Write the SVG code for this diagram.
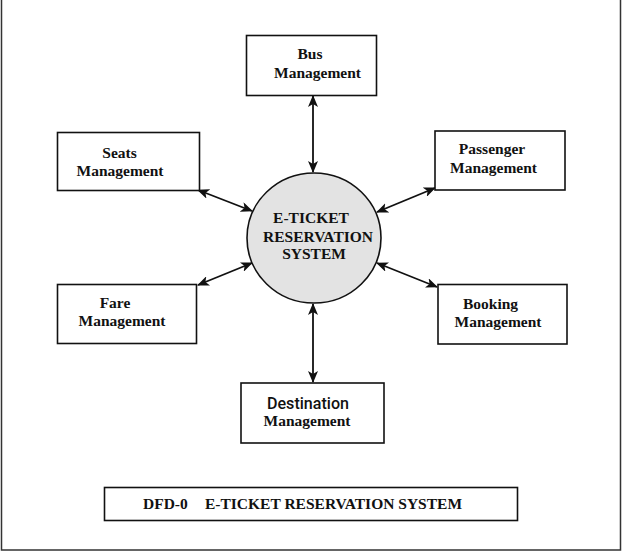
<svg xmlns="http://www.w3.org/2000/svg" width="624" height="553" viewBox="0 0 624 553">
<style>
.box{fill:#fff;stroke:#111;stroke-width:1.6}
.t{font-family:"Liberation Serif","Times New Roman",serif;font-weight:bold;font-size:15.5px;fill:#111;text-anchor:middle}
.s{font-family:Roboto,"Liberation Sans",Arial,sans-serif;font-weight:500;font-size:16.5px;fill:#111;text-anchor:middle}
.c{stroke:#111;stroke-width:1.8;fill:none;marker-start:url(#ah);marker-end:url(#ah)}
</style>
<defs>
<marker id="ah" viewBox="0 0 12 10" refX="11" refY="5" markerWidth="12" markerHeight="10" markerUnits="userSpaceOnUse" orient="auto-start-reverse">
<path d="M0,0 L12,5 L0,10 L3,5 Z" fill="#111"/>
</marker>
</defs>
<rect width="624" height="553" fill="#fff"/>
<path d="M1.5,0 V550 H620.5 V0" fill="none" stroke="#333" stroke-width="1.5"/>
<g id="connectors">
<line class="c" x1="313" y1="96" x2="313" y2="172"/>
<line class="c" x1="313" y1="304" x2="313" y2="382"/>
<line class="c" x1="198" y1="190" x2="252" y2="211"/>
<line class="c" x1="198" y1="285" x2="252" y2="263"/>
<line class="c" x1="435" y1="188" x2="377" y2="212"/>
<line class="c" x1="437" y1="287" x2="377" y2="263"/>
</g>
<g id="center">
<ellipse cx="314" cy="238" rx="67" ry="65" fill="#e3e3e3" stroke="#111" stroke-width="1.6"/>
<text class="t" x="311" y="223">E-TICKET</text>
<text class="t" x="318" y="242">RESERVATION</text>
<text class="t" x="314" y="259">SYSTEM</text>
</g>
<g id="bus">
<rect class="box" x="246.5" y="35.5" width="130" height="60"/>
<text class="t" x="310" y="59">Bus</text>
<text class="t" x="317.5" y="78">Management</text>
</g>
<g id="seats">
<rect class="box" x="57.5" y="132.5" width="142" height="58"/>
<text class="t" x="119.5" y="158">Seats</text>
<text class="t" x="120" y="176">Management</text>
</g>
<g id="passenger">
<rect class="box" x="435" y="131" width="130" height="59"/>
<text class="t" x="492" y="154">Passenger</text>
<text class="t" x="493.5" y="173">Management</text>
</g>
<g id="fare">
<rect class="box" x="57.5" y="284.5" width="139" height="59"/>
<text class="t" x="115" y="308">Fare</text>
<text class="t" x="122" y="326">Management</text>
</g>
<g id="booking">
<rect class="box" x="438" y="284.5" width="129" height="59.5"/>
<text class="t" x="490.5" y="309">Booking</text>
<text class="t" x="498" y="327">Management</text>
</g>
<g id="destination">
<rect class="box" x="241" y="383" width="143" height="60"/>
<text class="s" x="308" y="409" textLength="82" lengthAdjust="spacingAndGlyphs">Destination</text>
<text class="t" x="307" y="426">Management</text>
</g>
<g id="title">
<rect class="box" x="104.5" y="487.5" width="413" height="33"/>
<text class="t" style="text-anchor:start" y="509"><tspan x="143">DFD-0</tspan><tspan x="205">E-TICKET RESERVATION SYSTEM</tspan></text>
</g>
</svg>
